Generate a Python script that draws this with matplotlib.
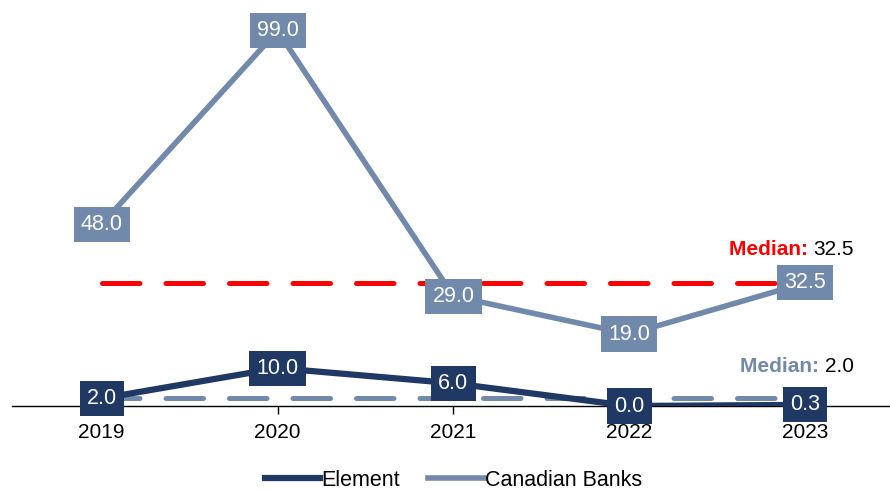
import matplotlib.pyplot as plt

plt.rcParams["font.family"] = ["Liberation Sans", "DejaVu Sans"]

years = ["2019", "2020", "2021", "2022", "2023"]
element = [2.0, 10.0, 6.0, 0.0, 0.3]
canadian_banks = [48.0, 99.0, 29.0, 19.0, 32.5]
element_median = 32.5
banks_median = 2.0

DARK = "#203864"
LIGHT = "#7189AB"
RED = "#FF0000"

fig = plt.figure(figsize=(8.9, 4.9), dpi=100)
ax = fig.add_axes([0.0135, 0.1714, 0.988, 0.812])
x = list(range(len(years)))

# median reference lines
ax.plot([x[0], x[-1]], [element_median] * 2, color=RED, lw=3.6,
        dashes=(7.5, 5.2), dash_capstyle="round", zorder=2)
ax.plot([x[0], x[-1]], [banks_median] * 2, color=LIGHT, lw=3.6,
        dashes=(7.5, 5.2), dash_capstyle="round", zorder=2)

ax.plot(x, canadian_banks, color=LIGHT, lw=4.0, label="Canadian Banks", zorder=3)
ax.plot(x, element, color=DARK, lw=4.5, label="Element", zorder=4)

for xi, v in zip(x, canadian_banks):
    ax.text(xi, v, f"{v:.1f}", color="white", fontsize=15.5, ha="center", va="center",
            zorder=5, bbox=dict(boxstyle="square,pad=0.33", fc=LIGHT, ec="none"))
for xi, v in zip(x, element):
    ax.text(xi, v, f"{v:.1f}", color="white", fontsize=15.5, ha="center", va="center",
            zorder=6, bbox=dict(boxstyle="square,pad=0.33", fc=DARK, ec="none"),
            clip_on=False)

# median captions: bold coloured label followed by the value
for med, col, dy in [(element_median, RED, 24), (banks_median, LIGHT, 23)]:
    val = ax.annotate(f"{med:.1f}", xy=(x[-1], med), xytext=(35, dy),
                      textcoords="offset points", ha="right", va="center",
                      fontsize=15, color="black")
    ax.annotate("Median: ", xy=(0, 0.5), xycoords=val, ha="right", va="center",
                fontsize=15, color=col, fontweight="bold")

ax.set_xlim(-0.51, 4.49)
ax.set_ylim(0, 105)
for side in ["left", "right", "top"]:
    ax.spines[side].set_visible(False)
ax.spines["bottom"].set_linewidth(1.0)
ax.set_yticks([])
ax.set_xticks(x)
ax.set_xticklabels(years, fontsize=15)
ax.tick_params(axis="x", length=6, width=1, direction="out", pad=6)

handles, labels = ax.get_legend_handles_labels()
ax.legend(handles[::-1], labels[::-1], loc="center", bbox_to_anchor=(0.502, -0.186),
          ncol=2, frameon=False, fontsize=15.5, handlelength=2.6, handletextpad=0.05,
          columnspacing=1.3, borderpad=0.1)

fig.savefig("out.png", dpi=100)
